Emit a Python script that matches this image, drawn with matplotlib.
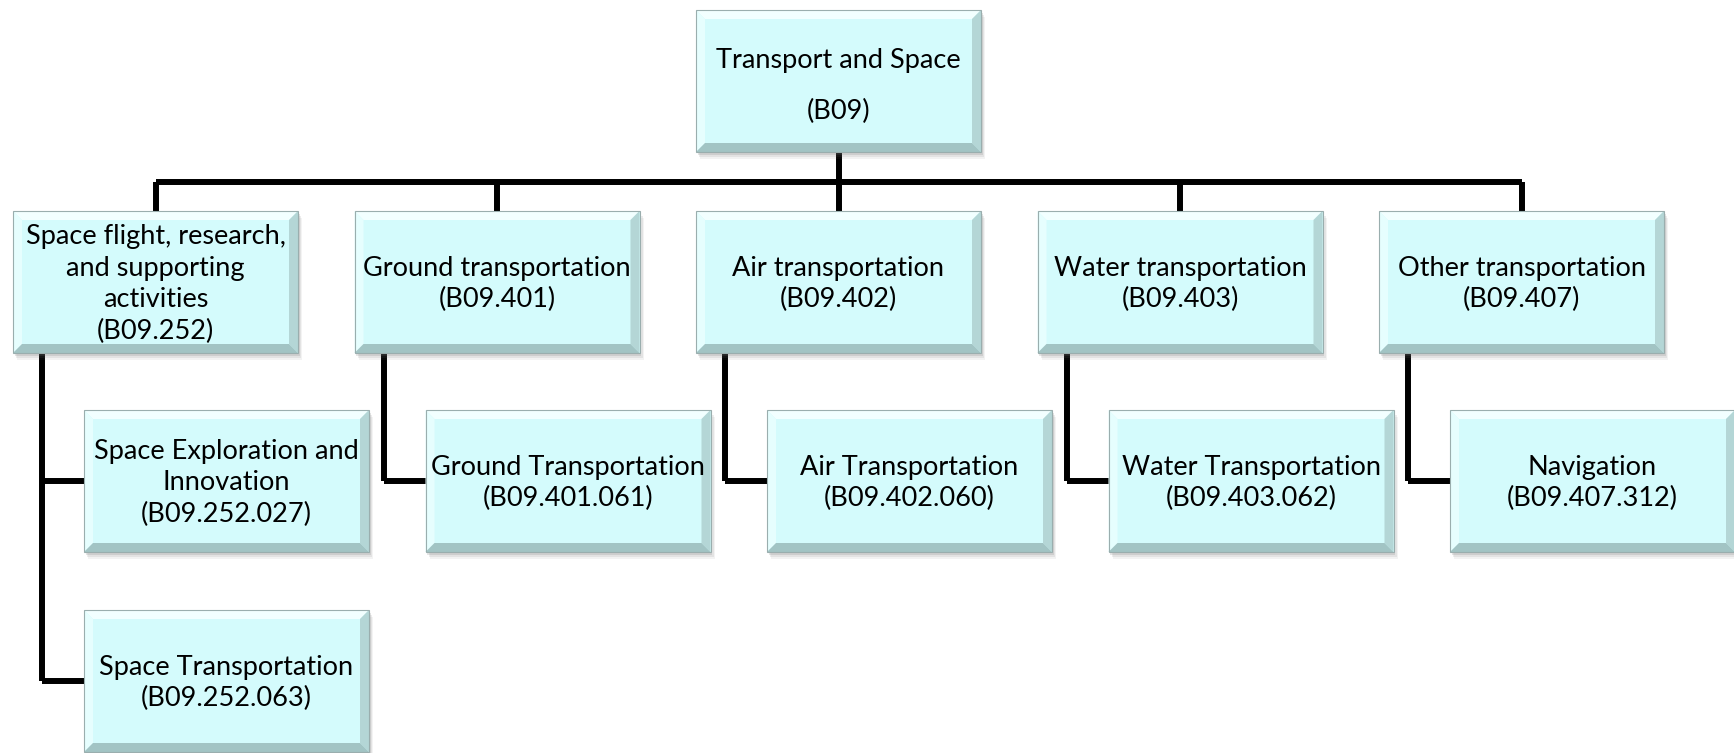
import matplotlib.pyplot as plt
from matplotlib.patches import Rectangle, Polygon

# ============================================================
# Style
# ============================================================
plt.rcParams['font.family'] = ['Lato', 'DejaVu Sans']

# ============================================================
# Chart content
# ============================================================
root_label = ["Transport and Space", "(B09)"]

branch_labels = [
    ["Space flight, research,", "and supporting", "activities", "(B09.252)"],
    ["Ground transportation", "(B09.401)"],
    ["Air transportation", "(B09.402)"],
    ["Water transportation", "(B09.403)"],
    ["Other transportation", "(B09.407)"],
]

child_labels = [
    [["Space Exploration and", "Innovation", "(B09.252.027)"],
     ["Space Transportation", "(B09.252.063)"]],
    [["Ground Transportation", "(B09.401.061)"]],
    [["Air Transportation", "(B09.402.060)"]],
    [["Water Transportation", "(B09.403.062)"]],
    [["Navigation", "(B09.407.312)"]],
]

# ============================================================
# Layout (pixels)
# ============================================================
W, H = 1734, 753
box_w, box_h = 285, 142
root_x, root_y = 696, 10
branch_x0, branch_pitch, branch_y = 13, 341.5, 211
child_dx, child_y0, child_pitch = 71, 410, 200
bus_y = 182
elbow_dx = 29
line_w = 4.3
fill = '#d4fbfc'
font_size = 19.5


def draw_box(ax, x, y, lines, spacing=1.33, dy=2):
    # soft drop shadow
    for off, a in [(7, 0.08), (5, 0.12), (3, 0.18)]:
        ax.add_patch(Rectangle((x + off * 0.6, y + off), box_w, box_h,
                               facecolor='#707070', edgecolor='none',
                               alpha=a, zorder=2))
    ax.add_patch(Rectangle((x, y), box_w, box_h, facecolor=fill,
                           edgecolor='none', zorder=3))
    b = 9
    x1, y1 = x + box_w, y + box_h
    bevels = [
        ([(x, y), (x1, y), (x1 - b, y + b), (x + b, y + b)], '#f2ffff'),
        ([(x, y), (x + b, y + b), (x + b, y1 - b), (x, y1)], '#e6fefe'),
        ([(x1, y), (x1, y1), (x1 - b, y1 - b), (x1 - b, y + b)], '#b4d6d6'),
        ([(x, y1), (x1, y1), (x1 - b, y1 - b), (x + b, y1 - b)], '#a2c4c4'),
    ]
    for pts, c in bevels:
        ax.add_patch(Polygon(pts, closed=True, facecolor=c,
                             edgecolor='none', zorder=4))
    ax.add_patch(Rectangle((x, y), box_w, box_h, facecolor='none',
                           edgecolor='#9aaeae', linewidth=0.8, zorder=5))
    ax.text(x + box_w / 2, y + box_h / 2 + dy, "\n".join(lines),
            ha='center', va='center', fontsize=font_size, color='black',
            linespacing=spacing, zorder=6)


fig = plt.figure(figsize=(W / 100, H / 100), dpi=100)
ax = fig.add_axes([0, 0, 1, 1])
ax.set_xlim(0, W)
ax.set_ylim(H, 0)
ax.axis('off')

line_kw = dict(color='black', linewidth=line_w, solid_capstyle='butt',
               solid_joinstyle='miter', zorder=1)

# root
draw_box(ax, root_x, root_y, root_label, spacing=2.25, dy=5)
root_cx = root_x + box_w / 2

branch_xs = [branch_x0 + i * branch_pitch for i in range(len(branch_labels))]
centers = [bx + box_w / 2 for bx in branch_xs]

# connectors root -> branches
ax.plot([root_cx, root_cx], [root_y + box_h, bus_y], **line_kw)
ax.plot([centers[0], centers[-1]], [bus_y, bus_y], **line_kw)
for cx in centers:
    ax.plot([cx, cx], [bus_y, branch_y], **line_kw)

for bx, blabel, kids in zip(branch_xs, branch_labels, child_labels):
    draw_box(ax, bx, branch_y, blabel)
    ex = bx + elbow_dx
    mids = [child_y0 + k * child_pitch + box_h / 2 for k in range(len(kids))]
    ax.plot([ex, ex], [branch_y + box_h, mids[-1]], **line_kw)
    for k, (m, klabel) in enumerate(zip(mids, kids)):
        ax.plot([ex, bx + child_dx], [m, m], **line_kw)
        draw_box(ax, bx + child_dx, child_y0 + k * child_pitch, klabel)

fig.savefig("out.png", dpi=100)
